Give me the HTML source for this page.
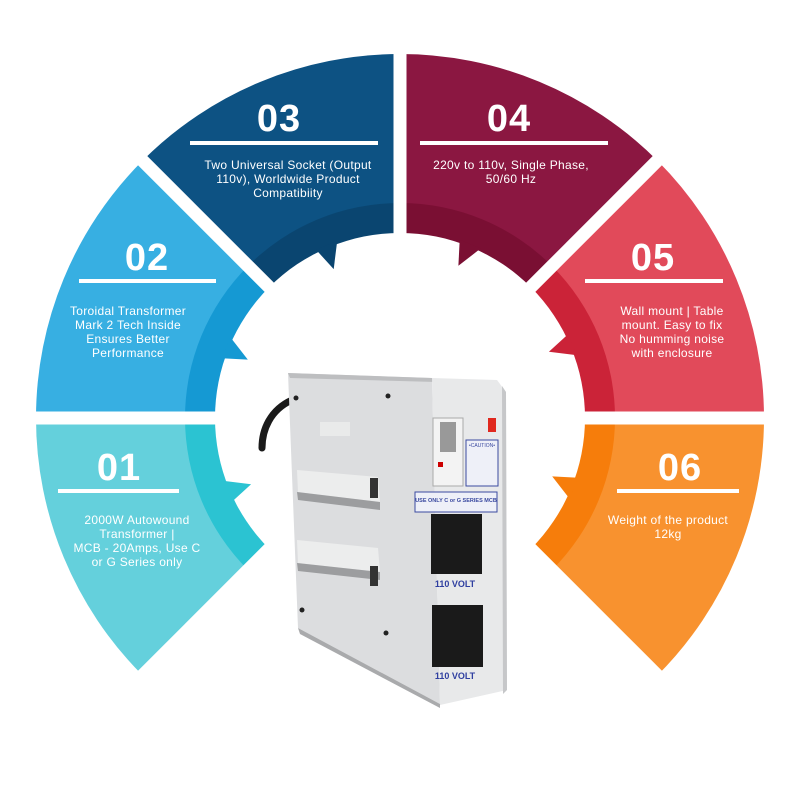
<!DOCTYPE html>
<html><head><meta charset="utf-8"><style>
html,body{margin:0;padding:0;background:#fff;}
svg{display:block}
.n{font-family:"Liberation Sans",sans-serif;font-weight:bold;font-size:38px;fill:#fff;text-anchor:middle;letter-spacing:1px}
.d{font-family:"Liberation Sans",sans-serif;font-size:12px;fill:#fff;text-anchor:middle;letter-spacing:0.3px}
</style></head><body>
<svg id="s" width="800" height="800" viewBox="0 0 800 800" xmlns="http://www.w3.org/2000/svg">
<g id="ring"></g>
<text class="n" x="279" y="131">03</text>
<rect x="190" y="141" width="188" height="4" fill="#fff"/>
<text class="d" x="288" y="169">Two Universal Socket (Output</text>
<text class="d" x="288" y="183">110v), Worldwide Product</text>
<text class="d" x="288" y="197">Compatibiity</text>

<text class="n" x="509" y="131">04</text>
<rect x="420" y="141" width="188" height="4" fill="#fff"/>
<text class="d" x="511" y="169">220v to 110v, Single Phase,</text>
<text class="d" x="511" y="183">50/60 Hz</text>

<text class="n" x="147" y="270">02</text>
<rect x="79" y="279" width="137" height="4" fill="#fff"/>
<text class="d" x="128" y="315">Toroidal Transformer</text>
<text class="d" x="128" y="329">Mark 2 Tech Inside</text>
<text class="d" x="128" y="343">Ensures Better</text>
<text class="d" x="128" y="357">Performance</text>

<text class="n" x="653" y="270">05</text>
<rect x="585" y="279" width="138" height="4" fill="#fff"/>
<text class="d" x="672" y="315">Wall mount | Table</text>
<text class="d" x="672" y="329">mount. Easy to fix</text>
<text class="d" x="672" y="343">No humming noise</text>
<text class="d" x="672" y="357">with enclosure</text>

<text class="n" x="119" y="480">01</text>
<rect x="58" y="489" width="121" height="4" fill="#fff"/>
<text class="d" x="137" y="524">2000W Autowound</text>
<text class="d" x="137" y="538">Transformer |</text>
<text class="d" x="137" y="552">MCB - 20Amps, Use C</text>
<text class="d" x="137" y="566">or G Series only</text>

<text class="n" x="680" y="480">06</text>
<rect x="617" y="489" width="122" height="4" fill="#fff"/>
<text class="d" x="668" y="524">Weight of the product</text>
<text class="d" x="668" y="538">12kg</text>

<path d="M292 400 C270 410 262 430 262 448" stroke="#1a1a1a" stroke-width="7" fill="none" stroke-linecap="round"/>
<polygon points="288,373 432,378 440,704 298,628" fill="#dcdddf"/>
<polygon points="288,373 432,378 436,382 290,378" fill="#bdbec0"/>
<polygon points="432,378 497,380 506,392 507,690 440,705" fill="#e8e9ea"/>
<polygon points="498,380 506,392 507,690 503,694 502,386" fill="#c6c7c9"/>
<polygon points="298,628 440,704 440,708 300,634" fill="#a9aaac"/>
<polygon points="297,470 378,477 380,502 298,492" fill="#eceded"/>
<polygon points="297,492 380,502 380,510 298,500" fill="#9c9d9f"/>
<polygon points="297,540 378,548 380,572 298,563" fill="#eceded"/>
<polygon points="297,563 380,572 380,580 298,571" fill="#9c9d9f"/>
<rect x="370" y="478" width="8" height="20" fill="#333"/>
<rect x="370" y="566" width="8" height="20" fill="#333"/>
<rect x="320" y="422" width="30" height="14" fill="#e9eaea"/>
<circle cx="296" cy="398" r="2.5" fill="#222"/><circle cx="388" cy="396" r="2.5" fill="#222"/>
<circle cx="302" cy="610" r="2.5" fill="#222"/><circle cx="386" cy="633" r="2.5" fill="#222"/>
<rect x="433" y="418" width="30" height="68" fill="#f3f3f3" stroke="#aaa" stroke-width="1"/>
<rect x="440" y="422" width="16" height="30" fill="#999"/>
<rect x="438" y="462" width="5" height="5" fill="#c00"/>
<rect x="466" y="440" width="32" height="46" fill="#eef0f8" stroke="#3b4aa0" stroke-width="1"/>
<text x="482" y="447" font-family="Liberation Sans" font-size="5" fill="#3b4aa0" text-anchor="middle">•CAUTION•</text>
<rect x="415" y="492" width="82" height="20" fill="#eef0f8" stroke="#3b4aa0" stroke-width="1"/>
<text x="456" y="502" font-family="Liberation Sans" font-size="5.5" font-weight="bold" fill="#3b4aa0" text-anchor="middle">USE ONLY C or G SERIES MCB</text>
<rect x="488" y="418" width="8" height="14" fill="#e0281e"/>
<rect x="431" y="514" width="51" height="60" fill="#1a1a1a"/>
<rect x="432" y="605" width="51" height="62" fill="#1a1a1a"/>
<text x="455" y="587" font-family="Liberation Sans" font-size="9" font-weight="bold" fill="#2f3fa0" text-anchor="middle">110 VOLT</text>
<text x="455" y="679" font-family="Liberation Sans" font-size="9" font-weight="bold" fill="#2f3fa0" text-anchor="middle">110 VOLT</text>
</svg>
<script>
var cx=400,cy=418,R=364,B=215,I=185;
var segs=[[135,"#64d0dc","#2bc3d2"],[180,"#37afe2","#1599d3"],[225,"#0d5283","#0a4570"],[270,"#8b1741","#7a0f33"],[315,"#e14a5a","#cb2338"],[0,"#f8922f","#f67d0b"]];
function p(r,a){a=a*Math.PI/180;return (cx+r*Math.cos(a)).toFixed(1)+","+(cy+r*Math.sin(a)).toFixed(1);}
function sector(r,a0,a1){return "M"+cx+","+cy+" L"+p(r,a0)+" A"+r+","+r+" 0 0 1 "+p(r,a1)+" Z";}
var h="";
segs.forEach(function(s){
 var a0=s[0],a1=a0+45;
 h+='<path d="'+sector(R,a0,a1)+'" fill="'+s[1]+'"/>';
 h+='<path d="'+sector(B,a0,a1)+'" fill="'+s[2]+'"/>';
});
h+='<circle cx="'+cx+'" cy="'+cy+'" r="'+I+'" fill="#fff"/>';
segs.forEach(function(s){
 var m=s[0]+22;
 h+='<polygon points="'+p(I+3,m-3.5)+' '+p(163,m-1)+' '+p(I+3,m+3.5)+'" fill="'+s[2]+'"/>';
});
[135,180,225,270,315,0,45].forEach(function(a){
 var q=p(R+20,a).split(",");
 h+='<line x1="'+cx+'" y1="'+cy+'" x2="'+q[0]+'" y2="'+q[1]+'" stroke="#fff" stroke-width="13"/>';
});
document.getElementById("ring").innerHTML=h;
</script>
</body></html>
